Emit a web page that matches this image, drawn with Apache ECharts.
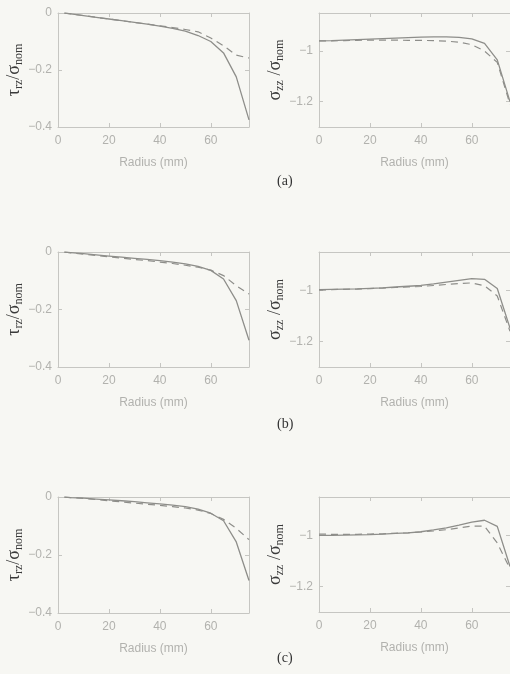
<!DOCTYPE html>
<html>
<head>
<meta charset="utf-8">
<script src="https://cdn.jsdelivr.net/npm/echarts@6/dist/echarts.min.js"></script>
<style>
html,body{margin:0;padding:0;background:#f7f7f3;}
#c{width:510px;height:674px;}
</style>
</head>
<body>
<div id="c"></div>
<script>
// ---- data ----
const radiusTau   = [2.5, 5, 10, 15, 20, 25, 30, 35, 40, 45, 50, 55, 60, 65, 70, 75];
const radiusSigma = [0, 5, 10, 15, 20, 25, 30, 35, 40, 45, 50, 55, 60, 65, 70, 75];

const tauA_solid  = [0, -0.003, -0.009, -0.015, -0.021, -0.027, -0.033, -0.039, -0.046, -0.054, -0.064, -0.079, -0.100, -0.140, -0.224, -0.375];
const tauA_dashed = [0, -0.003, -0.009, -0.015, -0.021, -0.027, -0.033, -0.039, -0.045, -0.051, -0.058, -0.066, -0.088, -0.115, -0.148, -0.158];
const sigA_solid  = [-0.960, -0.959, -0.957, -0.955, -0.953, -0.951, -0.949, -0.947, -0.945, -0.944, -0.944, -0.946, -0.952, -0.970, -1.035, -1.200];
const sigA_dashed = [-0.960, -0.960, -0.959, -0.958, -0.957, -0.957, -0.957, -0.958, -0.958, -0.959, -0.961, -0.965, -0.975, -1.000, -1.045, -1.210];

const tauB_solid  = [0, -0.002, -0.006, -0.010, -0.014, -0.018, -0.022, -0.026, -0.030, -0.035, -0.041, -0.050, -0.064, -0.094, -0.169, -0.307];
const tauB_dashed = [0, -0.003, -0.008, -0.012, -0.017, -0.021, -0.026, -0.030, -0.035, -0.040, -0.046, -0.053, -0.063, -0.082, -0.117, -0.146];
const sigB_solid  = [-0.997, -0.996, -0.995, -0.994, -0.992, -0.990, -0.987, -0.984, -0.981, -0.975, -0.968, -0.961, -0.954, -0.957, -0.993, -1.148];
const sigB_dashed = [-0.999, -0.997, -0.996, -0.995, -0.993, -0.991, -0.989, -0.987, -0.985, -0.981, -0.977, -0.973, -0.971, -0.982, -1.022, -1.160];

const tauC_solid  = [0, -0.002, -0.004, -0.007, -0.010, -0.013, -0.016, -0.020, -0.024, -0.028, -0.033, -0.042, -0.056, -0.082, -0.155, -0.288];
const tauC_dashed = [0, -0.002, -0.005, -0.009, -0.013, -0.017, -0.021, -0.025, -0.029, -0.033, -0.038, -0.045, -0.057, -0.077, -0.108, -0.147];
const sigC_solid  = [-1.000, -1.000, -0.999, -0.998, -0.997, -0.995, -0.992, -0.990, -0.986, -0.979, -0.971, -0.960, -0.948, -0.941, -0.965, -1.122];
const sigC_dashed = [-0.995, -0.996, -0.996, -0.996, -0.995, -0.994, -0.992, -0.990, -0.987, -0.983, -0.978, -0.971, -0.964, -0.964, -1.030, -1.130];

const xTicks = [0, 20, 40, 60];
const tauTicks = [-0.4, -0.2, 0];
const sigTicks = [-1.2, -1];
const panelLabels = ['(a)', '(b)', '(c)'];
const xName = 'Radius (mm)';

// ---- layout ----
const gridsPos = [
  {left: 58,  top: 13,  width: 191, height: 114},
  {left: 319, top: 13,  width: 191, height: 114},
  {left: 58,  top: 252, width: 191, height: 115},
  {left: 319, top: 252, width: 191, height: 115},
  {left: 58,  top: 497, width: 191, height: 116},
  {left: 319, top: 497, width: 191, height: 115}
];
const panels = [
  {x: radiusTau,   s: tauA_solid, d: tauA_dashed, kind: 'tau'},
  {x: radiusSigma, s: sigA_solid, d: sigA_dashed, kind: 'sig'},
  {x: radiusTau,   s: tauB_solid, d: tauB_dashed, kind: 'tau'},
  {x: radiusSigma, s: sigB_solid, d: sigB_dashed, kind: 'sig'},
  {x: radiusTau,   s: tauC_solid, d: tauC_dashed, kind: 'tau'},
  {x: radiusSigma, s: sigC_solid, d: sigC_dashed, kind: 'sig'}
];

const axisCol = '#c6c6c2';
const labCol = '#b2b2ae';
const lineCol = '#8e8e8a';
const titleCol = '#3a3a3a';

const richT = {
  g: {fontFamily: 'Liberation Serif', fontSize: 18, color: titleCol, lineHeight: 22},
  s: {fontFamily: 'Liberation Serif', fontSize: 12, color: titleCol, padding: [9, 0, 0, 0], lineHeight: 22}
};

const xAxes = [], yAxes = [], series = [];
panels.forEach((p, i) => {
  const tau = p.kind === 'tau';
  const yTicks = tau ? tauTicks : sigTicks;
  const baseX = {
    gridIndex: i, type: 'value', min: 0, max: 75,
    axisLine: {show: true, onZero: false, lineStyle: {color: axisCol, width: 1}},
    axisTick: {show: true, inside: true, length: 4, customValues: xTicks, lineStyle: {color: axisCol}},
    splitLine: {show: false}
  };
  xAxes.push(Object.assign({}, baseX, {
    position: 'bottom',
    axisLabel: {show: true, customValues: xTicks, margin: 8, color: labCol, fontSize: 12, fontFamily: 'Liberation Sans'},
    name: xName, nameLocation: 'middle', nameGap: 30,
    nameTextStyle: {color: labCol, fontSize: 12, fontFamily: 'Liberation Sans'}
  }));
  xAxes.push(Object.assign({}, baseX, {position: 'top', axisLabel: {show: false}}));
  const baseY = {
    gridIndex: i, type: 'value',
    min: tau ? -0.4 : -1.3, max: tau ? 0 : -0.85,
    axisLine: {show: true, onZero: false, lineStyle: {color: axisCol, width: 1}},
    axisTick: {show: true, inside: true, length: 4, customValues: yTicks, lineStyle: {color: axisCol}},
    splitLine: {show: false}
  };
  yAxes.push(Object.assign({}, baseY, {
    position: 'left',
    axisLabel: {show: true, customValues: yTicks, margin: 6, color: labCol, fontSize: 12, fontFamily: 'Liberation Sans',
      formatter: v => String(+v.toFixed(2)).replace('-', '\u2212')},
    name: tau ? '{g|τ}{s|rz}{g|/σ}{s|nom}' : '{g|σ}{s|zz}{g| /σ}{s|nom}',
    nameLocation: 'middle', nameRotate: 90, nameGap: tau ? 33 : 30,
    nameTextStyle: {rich: richT}
  }));
  yAxes.push(Object.assign({}, baseY, {position: 'right', axisLabel: {show: false}}));
  const pairs = arr => p.x.map((r, k) => [r, arr[k]]);
  series.push({
    type: 'line', xAxisIndex: 2 * i, yAxisIndex: 2 * i, data: pairs(p.s),
    showSymbol: false, symbol: 'none', lineStyle: {color: lineCol, width: 1.3, type: 'solid'}, silent: true
  });
  series.push({
    type: 'line', xAxisIndex: 2 * i, yAxisIndex: 2 * i, data: pairs(p.d),
    showSymbol: false, symbol: 'none', lineStyle: {color: lineCol, width: 1.2, type: [7, 5]}, silent: true
  });
});

const labelTops = [174, 417, 651];
const graphics = panelLabels.map((t, k) => ({
  type: 'text', left: 277, top: labelTops[k],
  style: {text: t, font: '14px "Liberation Serif"', fill: '#333'}
}));

const chart = echarts.init(document.getElementById('c'), null, {renderer: 'canvas'});
chart.setOption({
  backgroundColor: '#f7f7f3',
  animation: false,
  grid: gridsPos.map(g => Object.assign({containLabel: false}, g)),
  xAxis: xAxes,
  yAxis: yAxes,
  series: series,
  graphic: graphics
});
</script>
</body>
</html>
